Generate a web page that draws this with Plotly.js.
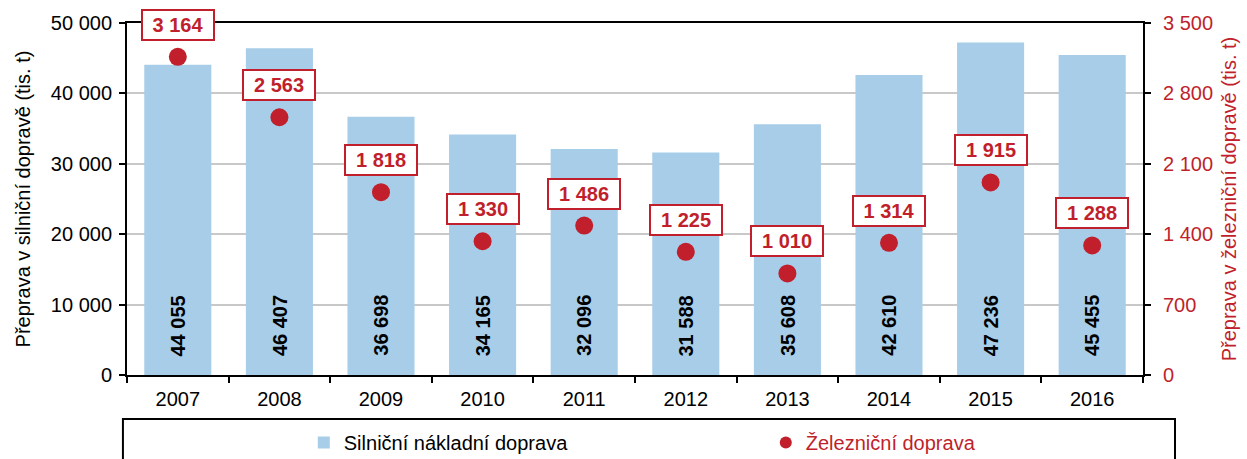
<!DOCTYPE html>
<html>
<head>
<meta charset="utf-8">
<script src="https://cdn.plot.ly/plotly-3.0.1.min.js"></script>
<style>html,body{margin:0;padding:0;background:#fff;}#chart{width:1247px;height:459px;}</style>
</head>
<body>
<div id="chart"></div>
<script>
const years = ['2007','2008','2009','2010','2011','2012','2013','2014','2015','2016'];
const roadValues = [44055, 46407, 36698, 34165, 32096, 31588, 35608, 42610, 47236, 45455];
const railValues = [3164, 2563, 1818, 1330, 1486, 1225, 1010, 1314, 1915, 1288];
const roadName = 'Silniční nákladní doprava';
const railName = 'Železniční doprava';
const leftTitle = 'Přeprava v silniční dopravě (tis. t)';
const rightTitle = 'Přeprava v železniční dopravě (tis. t)';

const BLUE = '#a7cde8';
const RED = '#c01f2b';
const FONT = 'Liberation Sans, Arial, sans-serif';

function fmt(v){ return String(v).replace(/\B(?=(\d{3})+(?!\d))/g, ' '); }

const traces = [
  {type:'bar', x: years, y: roadValues, name: roadName, marker:{color: BLUE}, yaxis:'y', hoverinfo:'none'},
  {type:'scatter', mode:'markers', x: years, y: railValues, name: '<span style="color:'+RED+'">'+railName+'</span>',
   marker:{color: RED, size: 18}, yaxis:'y2', hoverinfo:'none'}
];

const annotations = [];
years.forEach((yr, i) => {
  annotations.push({x: i, y: 7000, xref:'x', yref:'y', text: fmt(roadValues[i]), showarrow:false,
    textangle:-90, font:{family: FONT, size:20, color:'#000', weight:700}, xanchor:'center', yanchor:'middle'});
  annotations.push({x: i, y: railValues[i], xref:'x', yref:'y2', text: fmt(railValues[i]), showarrow:false,
    yshift: 32, font:{family: FONT, size:20, color: RED, weight:700}, bgcolor:'#fff', bordercolor: RED,
    borderwidth:2, borderpad:3, width:64, xanchor:'center', yanchor:'middle'});
});

const layout = {
  width:1247, height:459,
  margin:{l:127, r:104, t:23, b:84},
  paper_bgcolor:'#fff', plot_bgcolor:'#fff',
  font:{family: FONT, size:20, color:'#000'},
  separators: '. ',
  bargap: 0.34,
  showlegend: true,
  legend:{orientation:'h', xref:'paper', x:0.174, xanchor:'left', yref:'container', y:0.0784, yanchor:'top', itemsizing:'constant',
    font:{family: FONT, size:20, color:'#000'}, entrywidth: 417, bgcolor:'rgba(0,0,0,0)', traceorder:'normal'},
  xaxis:{type:'category', range:[-0.5, 9.5], showline:true, linecolor:'#000', linewidth:2, mirror:true,
    ticks:'outside', tickson:'boundaries', ticklen:6, tickwidth:2, tickcolor:'#000', tickangle:0,
    ticklabelstandoff: 5, automargin:false,
    tickfont:{size:20, color:'#000'}, showgrid:false, fixedrange:true},
  yaxis:{range:[0,50000], tickvals:[0,10000,20000,30000,40000,50000], tickformat:',',
    showline:true, linecolor:'#000', linewidth:2, ticks:'outside', ticklen:6, tickwidth:2, tickcolor:'#000',
    showgrid:true, gridcolor:'#c8c8c8', gridwidth:2, zeroline:false, ticklabelstandoff: 3,
    tickfont:{size:20, color:'#000'},
    title:{text: leftTitle, font:{size:20, color:'#000'}, standoff: 15}, fixedrange:true},
  yaxis2:{range:[0,3500], tickvals:[0,700,1400,2100,2800,3500], tickformat:',', overlaying:'y', side:'right',
    showline:true, linecolor:'#000', linewidth:2, ticks:'outside', ticklen:6, tickwidth:2, tickcolor:'#000',
    showgrid:false, zeroline:false, tickfont:{size:20, color: RED}, ticklabelstandoff: 8,
    title:{text: rightTitle, font:{size:20, color: RED}, standoff: 10}, fixedrange:true},
  shapes:[{type:'rect', xref:'paper', yref:'paper', x0:-0.004, x1:1.0315, y0:-0.125, y1:-0.3,
    line:{color:'#000', width:2}, fillcolor:'rgba(0,0,0,0)', layer:'above'}],
  annotations: annotations
};

Plotly.newPlot('chart', traces, layout, {staticPlot:true, displayModeBar:false});
</script>
</body>
</html>
